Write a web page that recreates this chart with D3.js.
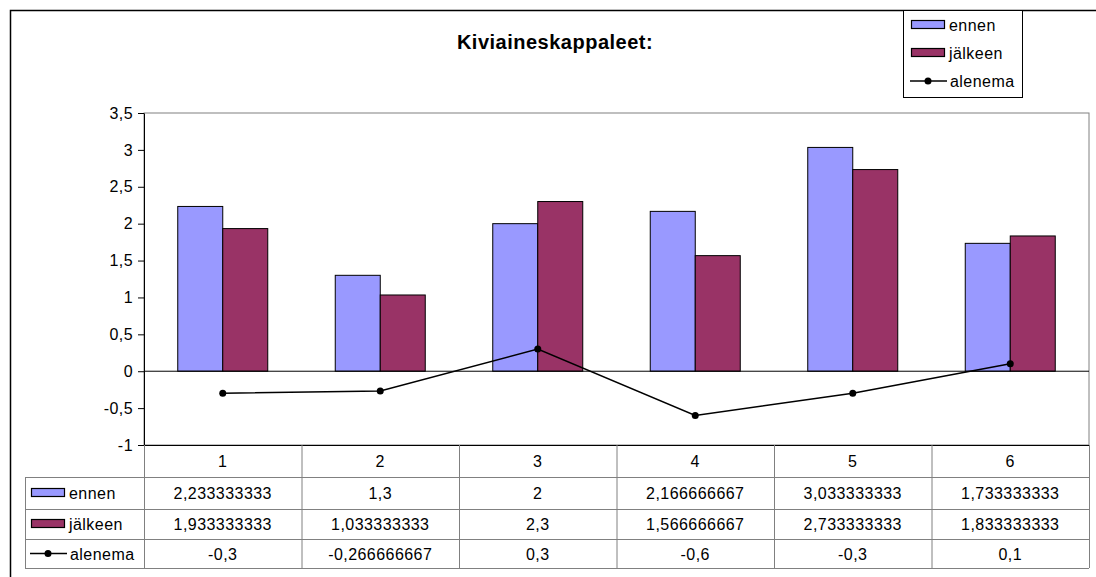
<!DOCTYPE html>
<html>
<head>
<meta charset="utf-8">
<script src="https://cdn.jsdelivr.net/npm/d3@7"></script>
<style>
  body { margin: 0; background: #fff; }
  svg { display: block; font-family: Arial, "Liberation Sans", sans-serif; }
</style>
</head>
<body>
<div id="chart"></div>
<script>
const categories = ['1', '2', '3', '4', '5', '6'];
const ennen = [2.233333333, 1.3, 2, 2.166666667, 3.033333333, 1.733333333];
const jalkeen = [1.933333333, 1.033333333, 2.3, 1.566666667, 2.733333333, 1.833333333];
const alenema = [-0.3, -0.266666667, 0.3, -0.6, -0.3, 0.1];
const yTicks = [-1, -0.5, 0, 0.5, 1, 1.5, 2, 2.5, 3, 3.5];
const seriesNames = ['ennen', 'jälkeen', 'alenema'];

const width = 1096, height = 577;
const plot = { left: 144, right: 1089, top: 113, bottom: 445 };
const rowH = [32, 32, 30, 29];
const colors = { ennen: '#9999ff', jalkeen: '#993366' };
const fmt = v => String(v).replace('.', ',');
const fontSize = 16;
const spacing = 0.45;

const svg = d3.select('#chart').append('svg')
  .attr('width', width)
  .attr('height', height);

// outer chart border
svg.append('rect')
  .attr('x', 10.5).attr('y', 10.5)
  .attr('width', 1100).attr('height', 600)
  .attr('fill', '#fff')
  .attr('stroke', '#000')
  .attr('stroke-width', 1.5);

svg.append('text')
  .attr('x', 555).attr('y', 49)
  .attr('text-anchor', 'middle')
  .attr('font-weight', 'bold')
  .attr('font-size', 20)
  .attr('letter-spacing', 0.5)
  .text('Kiviaineskappaleet:');

const x = d3.scaleBand()
  .domain(categories)
  .range([plot.left, plot.right]);
const inner = d3.scaleBand()
  .domain(['ennen', 'jalkeen'])
  .range([0, x.bandwidth()])
  .paddingOuter(0.75)
  .paddingInner(0);
const y = d3.scaleLinear()
  .domain([-1, 3.5])
  .range([plot.bottom, plot.top]);

// plot area frame
svg.append('rect')
  .attr('x', plot.left).attr('y', plot.top)
  .attr('width', plot.right - plot.left)
  .attr('height', plot.bottom - plot.top)
  .attr('fill', 'none')
  .attr('stroke', '#808080');

// y axis
const yAxis = svg.append('g')
  .attr('transform', `translate(${plot.left},0)`)
  .call(d3.axisLeft(y).tickValues(yTicks).tickFormat(fmt).tickSize(6).tickSizeOuter(0));
yAxis.select('.domain').attr('stroke', '#000');
yAxis.selectAll('.tick line').attr('stroke', '#000');
yAxis.selectAll('.tick text')
  .attr('font-size', fontSize)
  .attr('letter-spacing', spacing)
  .attr('font-family', 'Arial, "Liberation Sans", sans-serif')
  .attr('fill', '#000')
  .attr('x', -11);

// bars
const groups = svg.append('g').selectAll('g')
  .data(categories)
  .join('g')
  .attr('transform', d => `translate(${x(d)},0)`);

groups.append('rect')
  .attr('x', inner('ennen'))
  .attr('y', (d, i) => y(ennen[i]))
  .attr('width', inner.bandwidth())
  .attr('height', (d, i) => y(0) - y(ennen[i]))
  .attr('fill', colors.ennen)
  .attr('stroke', '#000')
  .attr('stroke-width', 1);

groups.append('rect')
  .attr('x', inner('jalkeen'))
  .attr('y', (d, i) => y(jalkeen[i]))
  .attr('width', inner.bandwidth())
  .attr('height', (d, i) => y(0) - y(jalkeen[i]))
  .attr('fill', colors.jalkeen)
  .attr('stroke', '#000')
  .attr('stroke-width', 1);

// category axis at zero
svg.append('line')
  .attr('x1', plot.left).attr('x2', plot.right)
  .attr('y1', y(0)).attr('y2', y(0))
  .attr('stroke', '#000');

// alenema line
const line = d3.line()
  .x((d, i) => x(categories[i]) + x.bandwidth() / 2)
  .y(d => y(d));
svg.append('path')
  .datum(alenema)
  .attr('d', line)
  .attr('fill', 'none')
  .attr('stroke', '#000')
  .attr('stroke-width', 1.5);
svg.append('g').selectAll('circle')
  .data(alenema)
  .join('circle')
  .attr('cx', (d, i) => x(categories[i]) + x.bandwidth() / 2)
  .attr('cy', d => y(d))
  .attr('r', 3.5)
  .attr('fill', '#000');

// data table
const table = svg.append('g')
  .attr('font-size', fontSize)
  .attr('letter-spacing', spacing);
const rowY = [plot.bottom];
rowH.forEach(h => rowY.push(rowY[rowY.length - 1] + h));
const tableLeft = 25;
const gridColor = '#808080';

// horizontal lines
rowY.forEach((ry, i) => {
  table.append('line')
    .attr('x1', i === 0 ? plot.left : tableLeft)
    .attr('x2', plot.right)
    .attr('y1', ry + 0.5).attr('y2', ry + 0.5)
    .attr('stroke', i === 0 ? '#000' : gridColor);
});
// vertical lines
const colX = categories.map(c => x(c)).concat([plot.right]);
colX.forEach(cx => {
  table.append('line')
    .attr('x1', cx + 0.5).attr('x2', cx + 0.5)
    .attr('y1', plot.bottom).attr('y2', rowY[4])
    .attr('stroke', gridColor);
});
table.append('line')
  .attr('x1', tableLeft + 0.5).attr('x2', tableLeft + 0.5)
  .attr('y1', rowY[1]).attr('y2', rowY[4])
  .attr('stroke', gridColor);

// header row
table.selectAll('text.hdr')
  .data(categories)
  .join('text')
  .attr('class', 'hdr')
  .attr('x', d => x(d) + x.bandwidth() / 2)
  .attr('y', rowY[0] + rowH[0] / 2 + 6)
  .attr('text-anchor', 'middle')
  .text(d => d);

const rows = [ennen, jalkeen, alenema];
rows.forEach((vals, r) => {
  const cy = rowY[r + 1] + rowH[r + 1] / 2;
  table.append('g').selectAll('text')
    .data(vals)
    .join('text')
    .attr('x', (d, i) => x(categories[i]) + x.bandwidth() / 2)
    .attr('y', cy + 6)
    .attr('text-anchor', 'middle')
    .text(d => fmt(d));

  // legend key in the row header
  if (r < 2) {
    table.append('rect')
      .attr('x', 31.5).attr('y', cy - 4.5)
      .attr('width', 33).attr('height', 8)
      .attr('fill', r === 0 ? colors.ennen : colors.jalkeen)
      .attr('stroke', '#000')
      .attr('stroke-width', 1.2);
  } else {
    table.append('line')
      .attr('x1', 30).attr('x2', 67)
      .attr('y1', cy).attr('y2', cy)
      .attr('stroke', '#000').attr('stroke-width', 1.5);
    table.append('circle')
      .attr('cx', 48).attr('cy', cy).attr('r', 3.5).attr('fill', '#000');
  }
  table.append('text')
    .attr('x', r < 2 ? 69 : 70).attr('y', cy + 6)
    .text(seriesNames[r]);
});

// legend
const legend = svg.append('g')
  .attr('font-size', fontSize)
  .attr('letter-spacing', spacing);
legend.append('rect')
  .attr('x', 903.5).attr('y', 10.5)
  .attr('width', 119).attr('height', 87)
  .attr('fill', '#fff')
  .attr('stroke', '#000');
const legY = [25, 53, 81];
seriesNames.forEach((name, i) => {
  if (i < 2) {
    legend.append('rect')
      .attr('x', 911.5).attr('y', legY[i] - 4.5)
      .attr('width', 33).attr('height', 8)
      .attr('fill', i === 0 ? colors.ennen : colors.jalkeen)
      .attr('stroke', '#000')
      .attr('stroke-width', 1.2);
  } else {
    legend.append('line')
      .attr('x1', 910).attr('x2', 947)
      .attr('y1', legY[i]).attr('y2', legY[i])
      .attr('stroke', '#000').attr('stroke-width', 1.5);
    legend.append('circle')
      .attr('cx', 928).attr('cy', legY[i]).attr('r', 3.5).attr('fill', '#000');
  }
  legend.append('text')
    .attr('x', i < 2 ? 949 : 950).attr('y', legY[i] + 6)
    .text(name);
});
</script>
</body>
</html>
